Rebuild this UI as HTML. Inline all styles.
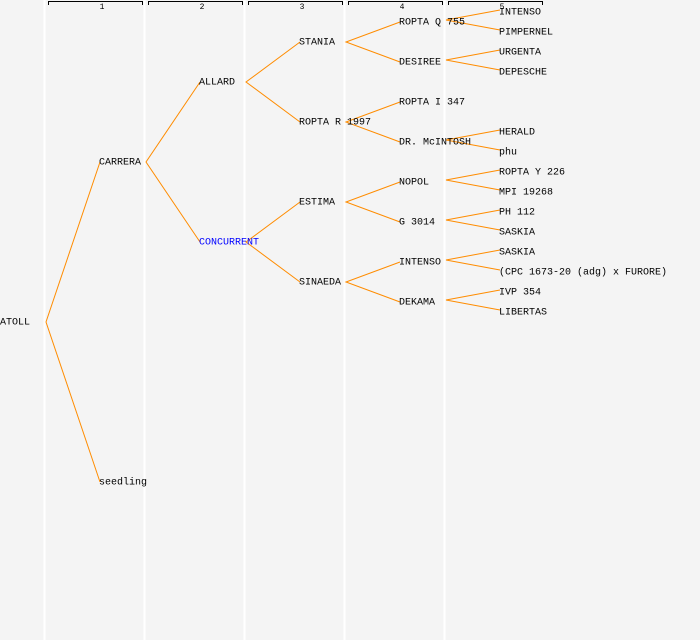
<!DOCTYPE html>
<html><head><style>
html,body{margin:0;padding:0;background:#f4f4f4;}
svg{display:block}
text{font-family:"Liberation Mono",monospace;font-size:10px;fill:#000;dominant-baseline:middle}
.e{stroke:#ff8c00;stroke-width:1;fill:none}
.n{font-size:8px;text-anchor:middle}
</style></head><body>
<svg width="700" height="640" viewBox="0 0 700 640">
<rect width="700" height="640" fill="#f4f4f4"/>
<g stroke="#fff" stroke-width="2">
<line x1="44.5" y1="0" x2="44.5" y2="640"/><line x1="144.5" y1="0" x2="144.5" y2="640"/>
<line x1="244.5" y1="0" x2="244.5" y2="640"/><line x1="344.5" y1="0" x2="344.5" y2="640"/>
<line x1="444.5" y1="0" x2="444.5" y2="640"/>
</g>
<g stroke="#000" fill="none" stroke-width="1">
<path d="M48.5 5V1.5H142.5V5"/><path d="M148.5 5V1.5H242.5V5"/><path d="M248.5 5V1.5H342.5V5"/>
<path d="M348.5 5V1.5H442.5V5"/><path d="M448.5 5V1.5H542.5V5"/>
</g>
<text class="n" x="102" y="7">1</text><text class="n" x="202" y="7">2</text><text class="n" x="302" y="7">3</text><text class="n" x="402" y="7">4</text><text class="n" x="502" y="7">5</text>
<g class="e">
<path d="M100 162L46 322L100 482"/>
<path d="M200 82L146 162L200 242"/>
<path d="M300 42L246 82L300 122"/>
<path d="M300 202L246 242L300 282"/>
<path d="M400 22L346 42L400 62"/>
<path d="M400 102L346 122L400 142"/>
<path d="M400 182L346 202L400 222"/>
<path d="M400 262L346 282L400 302"/>
<path d="M500 10L446 20L500 30"/>
<path d="M500 50L446 60L500 70"/>
<path d="M500 130L446 140L500 150"/>
<path d="M500 170L446 180L500 190"/>
<path d="M500 210L446 220L500 230"/>
<path d="M500 250L446 260L500 270"/>
<path d="M500 290L446 300L500 310"/>
</g>
<text x="0" y="322">ATOLL</text>
<text x="99" y="162">CARRERA</text>
<text x="99" y="482">seedling</text>
<text x="199" y="82">ALLARD</text>
<text x="199" y="242" style="fill:#0000ff">CONCURRENT</text>
<text x="299" y="42">STANIA</text>
<text x="299" y="122">ROPTA R 1997</text>
<text x="299" y="202">ESTIMA</text>
<text x="299" y="282">SINAEDA</text>
<text x="399" y="22">ROPTA Q 755</text>
<text x="399" y="62">DESIREE</text>
<text x="399" y="102">ROPTA I 347</text>
<text x="399" y="142">DR. McINTOSH</text>
<text x="399" y="182">NOPOL</text>
<text x="399" y="222">G 3014</text>
<text x="399" y="262">INTENSO</text>
<text x="399" y="302">DEKAMA</text>
<text x="499" y="12">INTENSO</text>
<text x="499" y="32">PIMPERNEL</text>
<text x="499" y="52">URGENTA</text>
<text x="499" y="72">DEPESCHE</text>
<text x="499" y="132">HERALD</text>
<text x="499" y="152">phu</text>
<text x="499" y="172">ROPTA Y 226</text>
<text x="499" y="192">MPI 19268</text>
<text x="499" y="212">PH 112</text>
<text x="499" y="232">SASKIA</text>
<text x="499" y="252">SASKIA</text>
<text x="499" y="272">(CPC 1673-20 (adg) x FURORE)</text>
<text x="499" y="292">IVP 354</text>
<text x="499" y="312">LIBERTAS</text>
</svg>
</body></html>
